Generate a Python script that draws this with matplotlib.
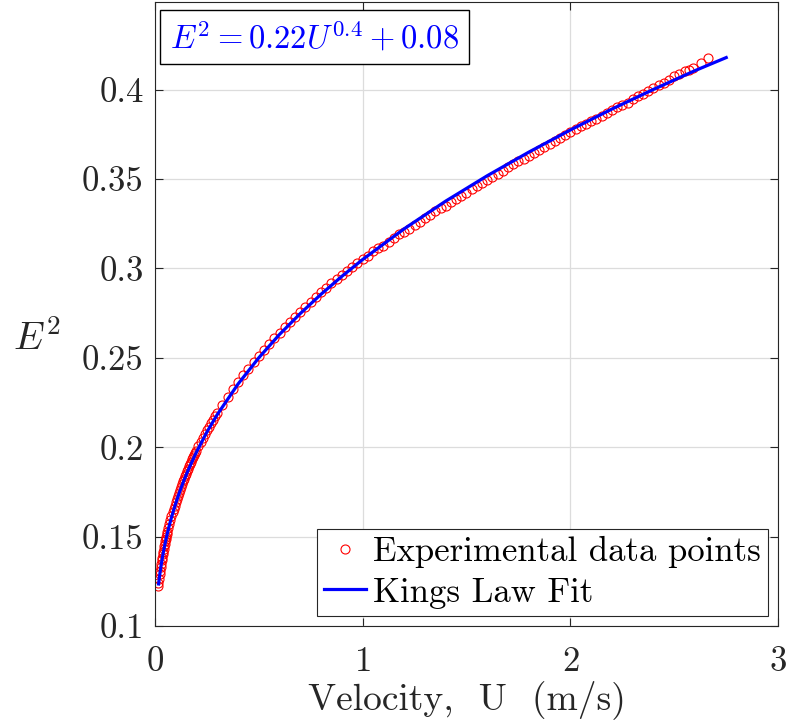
import matplotlib
matplotlib.use("Agg")
import matplotlib.pyplot as plt

plt.rcParams['font.family'] = 'serif'
plt.rcParams['font.serif'] = ['cmr10']
plt.rcParams['mathtext.fontset'] = 'cm'
plt.rcParams['axes.formatter.use_mathtext'] = True

# experimental data (velocity U in m/s, E^2)
u_exp = [0.015, 0.0175, 0.02, 0.0225, 0.025, 0.0275, 0.03, 0.0325, 0.035, 0.0375,
         0.04, 0.0425, 0.045, 0.0475, 0.05, 0.0525, 0.055, 0.0575, 0.06,
         0.065, 0.07, 0.075, 0.08, 0.085, 0.09, 0.095, 0.1, 0.105, 0.11, 0.115,
         0.12, 0.125, 0.13, 0.135, 0.14, 0.145, 0.15, 0.155, 0.16, 0.165,
         0.17, 0.175, 0.18, 0.185, 0.19, 0.195, 0.2, 0.21, 0.22, 0.23,
         0.24, 0.25, 0.26, 0.27, 0.28, 0.29,
         0.3, 0.325, 0.35, 0.375, 0.4, 0.425, 0.45, 0.475,
         0.5, 0.525, 0.55, 0.575, 0.6, 0.625, 0.65, 0.675,
         0.7, 0.725, 0.75, 0.775, 0.8, 0.825, 0.85, 0.875,
         0.9, 0.925, 0.95, 0.975, 1.0, 1.025, 1.05, 1.075,
         1.1, 1.125, 1.15, 1.175, 1.2, 1.225, 1.25, 1.275,
         1.3, 1.325, 1.35, 1.375, 1.4, 1.425, 1.45, 1.475,
         1.5, 1.525, 1.55, 1.575, 1.6, 1.625, 1.65, 1.675,
         1.7, 1.725, 1.75, 1.775, 1.8, 1.825, 1.85, 1.875,
         1.9, 1.925, 1.95, 1.975, 2.0, 2.025, 2.05, 2.075,
         2.1, 2.125, 2.15, 2.175, 2.2, 2.225, 2.25, 2.275,
         2.3, 2.325, 2.35, 2.375, 2.4, 2.425, 2.45, 2.475,
         2.5, 2.525, 2.55, 2.57, 2.59, 2.627, 2.662]
e2_exp = [0.1222, 0.1240, 0.1265, 0.1288, 0.1309, 0.1329, 0.1348, 0.1367, 0.1382, 0.1400,
          0.1416, 0.1432, 0.1445, 0.1461, 0.1474, 0.1488, 0.1500, 0.1514, 0.1525,
          0.1550, 0.1572, 0.1595, 0.1615, 0.1636, 0.1654, 0.1673, 0.1693, 0.1712, 0.1728, 0.1746,
          0.1760, 0.1778, 0.1793, 0.1809, 0.1822, 0.1839, 0.1851, 0.1867, 0.1880, 0.1894,
          0.1905, 0.1920, 0.1932, 0.1946, 0.1956, 0.1970, 0.1981, 0.2006, 0.2028, 0.2051,
          0.2072, 0.2094, 0.2113, 0.2135, 0.2153, 0.2174,
          0.2192, 0.2237, 0.2282, 0.2323, 0.2363, 0.2402, 0.2439, 0.2475,
          0.2510, 0.2544, 0.2577, 0.2609, 0.2641, 0.2671, 0.2701, 0.2730,
          0.2758, 0.2786, 0.2813, 0.2840, 0.2866, 0.2892, 0.2917, 0.2942,
          0.2961, 0.2985, 0.3009, 0.3032, 0.3052, 0.3071, 0.3096, 0.3115,
          0.3128, 0.3150, 0.3171, 0.3192, 0.3202, 0.3222, 0.3242, 0.3262,
          0.3281, 0.3300, 0.3319, 0.3338, 0.3352, 0.3370, 0.3389, 0.3407,
          0.3425, 0.3442, 0.3460, 0.3477, 0.3494, 0.3511, 0.3528, 0.3545,
          0.3566, 0.3582, 0.3599, 0.3615, 0.3631, 0.3647, 0.3663, 0.3678,
          0.3699, 0.3714, 0.3730, 0.3745, 0.3765, 0.3780, 0.3795, 0.3810,
          0.3825, 0.3839, 0.3854, 0.3868, 0.3887, 0.3901, 0.3915, 0.3928,
          0.3947, 0.3963, 0.3978, 0.3992, 0.4012, 0.4025, 0.4039, 0.4054,
          0.4075, 0.4088, 0.4103, 0.4113, 0.4124, 0.4147, 0.4176]

# King's law fit curve
u_fit = [0.018, 0.025, 0.03, 0.035, 0.04, 0.05, 0.06, 0.07, 0.08, 0.1,
         0.12, 0.14, 0.16, 0.2, 0.25, 0.3, 0.4, 0.5, 0.6, 0.7,
         0.8, 0.9, 1.0, 1.2, 1.4, 1.6, 1.8, 2.0, 2.2, 2.4,
         2.6, 2.75]
e2_fit = [0.1235, 0.1299, 0.1338, 0.1374, 0.1406, 0.1465, 0.1517, 0.1564, 0.1607, 0.1684,
          0.1752, 0.1814, 0.1871, 0.1972, 0.2084, 0.2182, 0.2353, 0.2500, 0.2631, 0.2748,
          0.2856, 0.2956, 0.3050, 0.3222, 0.3377, 0.3519, 0.3651, 0.3775, 0.3892, 0.4002,
          0.4107, 0.4180]

fig = plt.figure(figsize=(7.9, 7.2), dpi=100)
ax = fig.add_axes([0.196, 0.1306, 0.789, 0.8664])

ax.plot(u_exp, e2_exp, 'o', mfc='none', mec='red', ms=6.5, mew=0.8,
        label='Experimental data points')
ax.plot(u_fit, e2_fit, '-', color='blue', lw=2.3, label='Kings Law Fit')

ax.set_xlim(0, 3)
ax.set_ylim(0.1, 0.449)
ax.set_xticks([0, 1, 2, 3])
ax.set_yticks([0.1, 0.15, 0.2, 0.25, 0.3, 0.35, 0.4])
ax.set_yticklabels(['0.1', '0.15', '0.2', '0.25', '0.3', '0.35', '0.4'])
ax.grid(True, color='#dcdcdc', lw=0.9)
ax.set_axisbelow(True)
ax.tick_params(direction='in', top=True, right=True, length=6, width=0.8,
               labelsize=25, colors='#262626')
ax.tick_params(axis='x', pad=15)
ax.tick_params(axis='y', pad=8)
for s in ax.spines.values():
    s.set_color('#262626')
    s.set_linewidth(0.8)

ax.set_xlabel('Velocity,  U  (m/s)', fontsize=27, color='#262626', labelpad=1)
ax.set_ylabel('$E^2$', fontsize=28, rotation=0, color='#262626')
ax.yaxis.set_label_coords(-0.19, 0.43)

ax.text(0.024, 0.972, r'$E^2 = 0.22U^{0.4} + 0.08$', transform=ax.transAxes,
        fontsize=23.5, color='blue', va='top', ha='left',
        bbox=dict(boxstyle='square,pad=0.3', fc='white', ec='black', lw=1.0))

leg = ax.legend(loc='lower right', fontsize=25, handlelength=1.2,
                handletextpad=0.2, borderpad=0.2, labelspacing=0.25,
                fancybox=False, edgecolor='#262626', framealpha=1,
                borderaxespad=0.3)
leg.get_frame().set_linewidth(0.8)

fig.savefig('out.png', dpi=100)
